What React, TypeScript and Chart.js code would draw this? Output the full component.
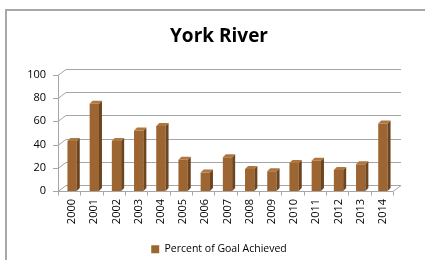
import React, { useEffect, useRef } from "react";
import { Chart, registerables } from "chart.js";

Chart.register(...registerables);

const years = ["2000","2001","2002","2003","2004","2005","2006","2007","2008","2009","2010","2011","2012","2013","2014"];
const percentOfGoal = [43, 75, 43, 52, 56, 27, 16, 29, 19, 17, 24, 26, 18, 23, 58];
const yTicks = [0, 20, 40, 60, 80, 100];

const FRONT = "rgb(156,101,49)";
const SIDE = "rgb(108,68,31)";
const TOP = "rgb(176,118,62)";
const GRID = "#a6a6a6";
const DEPTH = 3;
const WALL_DX = 8;
const WALL_DY = 6;

const framePlugin = {
  id: "frame3d",
  beforeDraw(chart: any) {
    const ctx = chart.ctx;
    ctx.save();
    ctx.fillStyle = "#fff";
    ctx.fillRect(0, 0, chart.width, chart.height);
    ctx.strokeStyle = "#a8a8a8";
    ctx.lineWidth = 2;
    ctx.strokeRect(6, 10, 600, 400);
    ctx.restore();
  },
  beforeDatasetsDraw(chart: any) {
    const ctx = chart.ctx;
    const ys = chart.scales.y;
    const L = chart.chartArea.left - 3;
    const R = chart.chartArea.right - 1;
    ctx.save();
    ctx.strokeStyle = GRID;
    ctx.lineWidth = 1;
    ctx.beginPath();
    for (const v of yTicks) {
      const y = Math.round(ys.getPixelForValue(v)) + 0.5;
      ctx.moveTo(L - 5, y);
      ctx.lineTo(L, y);
      ctx.lineTo(L + WALL_DX, y - WALL_DY);
      ctx.lineTo(R + WALL_DX, y - WALL_DY);
    }
    const y0 = Math.round(ys.getPixelForValue(0)) + 0.5;
    const y100 = Math.round(ys.getPixelForValue(100)) + 0.5;
    ctx.moveTo(L + 0.5, y100);
    ctx.lineTo(L + 0.5, y0);
    ctx.moveTo(L, y0);
    ctx.lineTo(R, y0);
    ctx.lineTo(R + WALL_DX, y0 - WALL_DY);
    const n = years.length;
    for (let i = 0; i <= n; i++) {
      const x = Math.round(L + ((R - L) * i) / n) + 0.5;
      ctx.moveTo(x, y0);
      ctx.lineTo(x, y0 + 4);
    }
    ctx.stroke();
    ctx.restore();
  },
  afterDatasetsDraw(chart: any) {
    const ctx = chart.ctx;
    const meta = chart.getDatasetMeta(0);
    ctx.save();
    for (const bar of meta.data) {
      const { x, y, base, width } = bar.getProps(["x", "y", "base", "width"], true);
      const l = x - width / 2;
      const r = x + width / 2;
      ctx.fillStyle = SIDE;
      ctx.beginPath();
      ctx.moveTo(r, y);
      ctx.lineTo(r + DEPTH, y - DEPTH);
      ctx.lineTo(r + DEPTH, base - DEPTH);
      ctx.lineTo(r, base);
      ctx.closePath();
      ctx.fill();
      ctx.fillStyle = TOP;
      ctx.beginPath();
      ctx.moveTo(l, y);
      ctx.lineTo(l + DEPTH, y - DEPTH);
      ctx.lineTo(r + DEPTH, y - DEPTH);
      ctx.lineTo(r, y);
      ctx.closePath();
      ctx.fill();
    }
    ctx.restore();
  },
};

export default function App() {
  const ref = useRef<HTMLCanvasElement | null>(null);
  useEffect(() => {
    if (!ref.current) return;
    const chart = new Chart(ref.current, {
      type: "bar",
      data: {
        labels: years,
        datasets: [
          {
            label: "Percent of Goal Achieved",
            data: percentOfGoal,
            backgroundColor: FRONT,
            borderWidth: 0,
            barPercentage: 0.84,
            categoryPercentage: 0.5,
          },
        ],
      },
      options: {
        responsive: false,
        animation: false,
        layout: { padding: { left: 13, right: 0, top: 0, bottom: 0 } },
        plugins: {
          title: {
            display: true,
            text: "York River",
            color: "#000",
            font: { family: "Open Sans", size: 19, weight: "bold" },
            padding: { top: 25, bottom: 27 },
          },
          legend: {
            display: true,
            position: "bottom",
            maxHeight: 16,
            labels: {
              boxWidth: 8,
              boxHeight: 8,
              padding: 0,
              color: "#000",
              font: { family: "Open Sans", size: 10.5 },
            },
          },
          tooltip: { enabled: false },
        },
        scales: {
          x: {
            grid: { display: false, drawTicks: false },
            border: { display: false },
            ticks: {
              autoSkip: false,
              minRotation: 90,
              maxRotation: 90,
              padding: 8,
              color: "#000",
              font: { family: "Open Sans", size: 11 },
            },
            afterFit(scale: any) {
              scale.height = 53;
            },
          },
          y: {
            min: 0,
            max: 100,
            grid: { display: false, drawTicks: false },
            border: { display: false },
            ticks: {
              stepSize: 20,
              padding: 15,
              color: "#000",
              font: { family: "Open Sans", size: 11 },
            },
            afterFit(scale: any) {
              scale.width = 48;
            },
          },
          y2: {
            position: "right",
            display: true,
            grid: { display: false, drawTicks: false },
            border: { display: false },
            ticks: { display: false },
            afterFit(scale: any) {
              scale.width = 31;
            },
          },
        },
      },
      plugins: [framePlugin],
    } as any);
    return () => chart.destroy();
  }, []);
  return (
    <div style={{ position: "fixed", left: 0, top: 0, width: 425, height: 260 }}>
      <canvas ref={ref} width={425} height={260} style={{ width: 425, height: 260 }} />
    </div>
  );
}
